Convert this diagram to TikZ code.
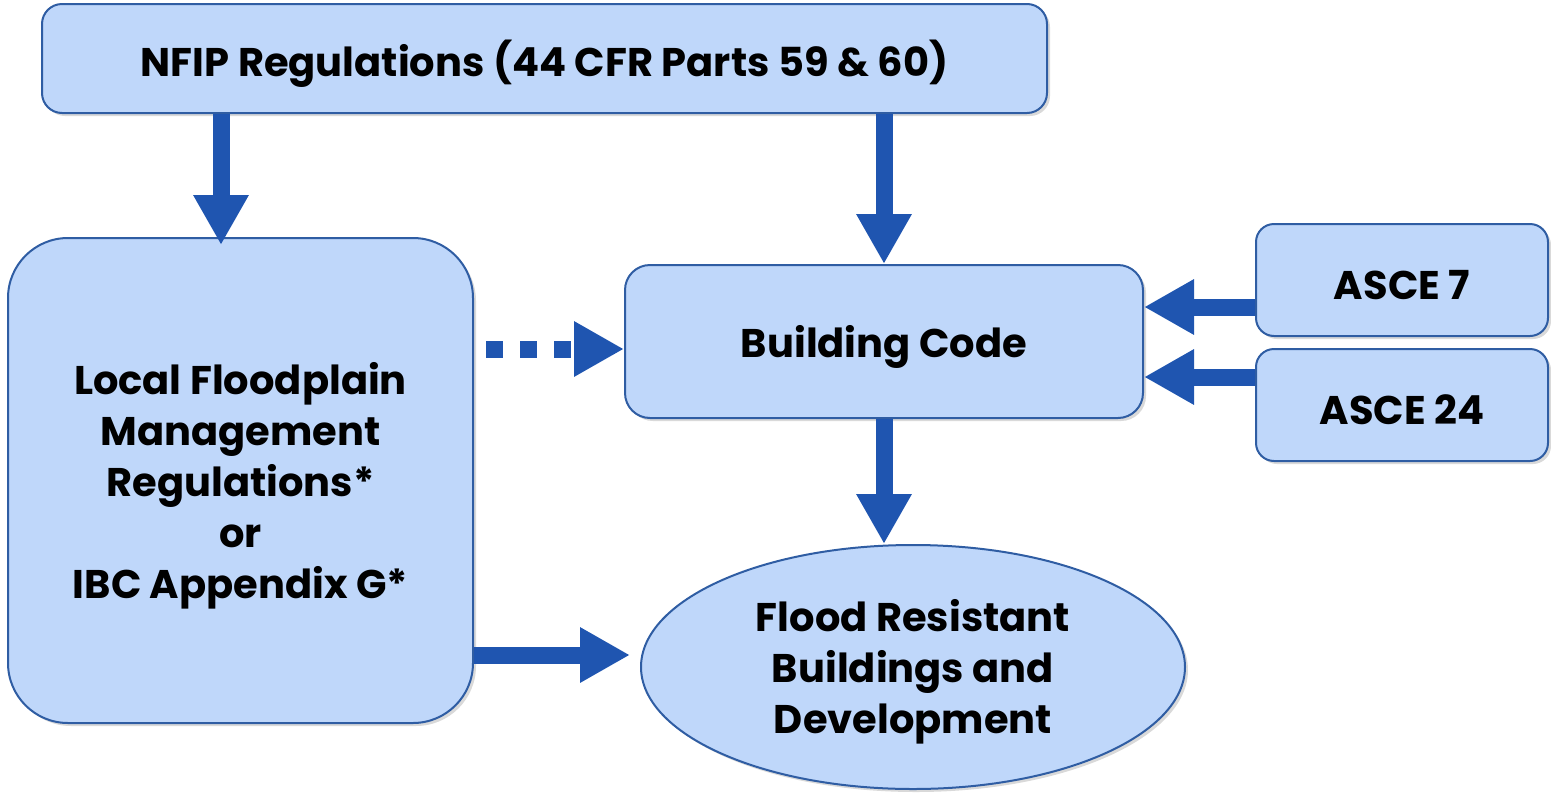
\documentclass[tikz,border=0pt]{standalone}
\usepackage{fontspec}
\setmainfont{Poppins}[BoldFont={* Bold}]
\usetikzlibrary{arrows.meta,shapes.geometric,shadows}
\definecolor{boxfill}{HTML}{BFD7FA}
\definecolor{boxline}{HTML}{2F5DA3}
\definecolor{arrowblue}{HTML}{1F55B0}
\tikzset{
  box/.style={draw=boxline,line width=2pt,fill=boxfill,
    drop shadow={opacity=0.3,shadow xshift=3pt,shadow yshift=-3pt},
    inner sep=0pt},
  txt/.style={font=\fontsize{40}{51}\selectfont\bfseries,align=center,
    inner sep=0pt,yshift=-5pt},
  flow/.style={draw=arrowblue,line width=17pt,
    -{Triangle[length=50pt,width=52pt]}},
  dottedflow/.style={flow,dash pattern=on 17pt off 17pt}
}
\begin{document}
\begin{tikzpicture}[x=1pt,y=-1pt]
\useasboundingbox (0,0) rectangle (1551,793);
\node[box,rounded corners=20pt,minimum width=1005pt,minimum height=109pt,
  label={[txt]center:NFIP Regulations (44 CFR Parts 59 \& 60)}] (nfip) at (544.5,58.5) {};
\node[box,rounded corners=60pt,minimum width=465pt,minimum height=485pt,
  label={[txt]center:{Local Floodplain\\Management\\Regulations*\\or\\IBC Appendix G*}}] (local) at (240.5,480.5) {};
\node[box,rounded corners=25pt,minimum width=518pt,minimum height=153pt,
  label={[txt]center:Building Code}] (bc) at (884,341.5) {};
\node[box,rounded corners=18pt,minimum width=292pt,minimum height=112pt,
  label={[txt]center:ASCE 7}] (a7) at (1402,280) {};
\node[box,rounded corners=18pt,minimum width=292pt,minimum height=112pt,
  label={[txt]center:ASCE 24}] (a24) at (1402,405) {};
\node[box,ellipse,minimum width=544pt,minimum height=244pt,
  label={[txt]center:{Flood Resistant\\Buildings and\\Development}}] (ell) at (913,667) {};
% connectors
\draw[flow,shorten >=-8pt] (nfip.south -| 221,0) -- (local.north -| 221,0);
\draw[flow] (nfip.south -| bc.north) -- (bc.north);
\draw[flow] (bc.south) -- (bc.south |- ell.north);
\draw[flow] (a7.west |- 0,307) -- (bc.east |- 0,307);
\draw[flow] (a24.west |- 0,377) -- (bc.east |- 0,377);
\draw[flow] (local.east |- 0,655) -- ([xshift=-10pt]ell.west |- 0,655);
\draw[dottedflow] ([xshift=12pt]local.east |- 0,349) -- (bc.west |- 0,349);
\end{tikzpicture}
\end{document}
